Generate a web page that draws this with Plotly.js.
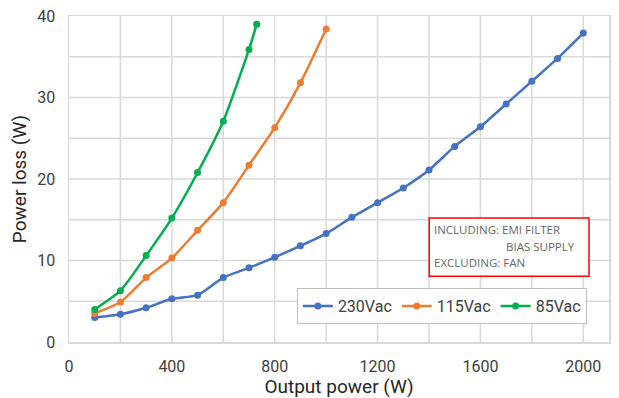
<!DOCTYPE html>
<html><head><meta charset="utf-8">
<script src="https://cdn.plot.ly/plotly-3.0.1.min.js"></script>
<style>html,body{margin:0;padding:0;background:#fff}#c{width:619px;height:398px}</style>
</head><body><div id="c"></div>
<script>
const x230 = [100,200,300,400,500,600,700,800,900,1000,1100,1200,1300,1400,1500,1600,1700,1800,1900,2000];
const y230 = [3.0,3.4,4.2,5.3,5.75,7.9,9.1,10.4,11.8,13.3,15.3,17.1,18.9,21.1,24.0,26.4,29.2,32.0,34.8,37.9];
const x115 = [100,200,300,400,500,600,700,800,900,1000];
const y115 = [3.5,4.9,7.9,10.3,13.7,17.1,21.7,26.3,31.8,38.4];
const x85 = [100,200,300,400,500,600,700,730];
const y85 = [4.0,6.3,10.6,15.2,20.8,27.1,35.9,39.0];
const names = ['230Vac','115Vac','85Vac'];
const colors = ['#4472C4','#ED7D31','#00B050'];
const noteLines = ['INCLUDING: EMI FILTER','BIAS SUPPLY','EXCLUDING: FAN'];

const xs=[x230,x115,x85], ys=[y230,y115,y85];
const traces = xs.map((x,i)=>({
  x:x, y:ys[i], name:names[i], type:'scatter', mode:'lines+markers',
  line:{color:colors[i], width:2.5, shape:'spline', smoothing:0.6},
  marker:{color:colors[i], size:7}
}));

const font = {family:'Roboto, sans-serif', color:'#404040'};
const layout = {
  width:619, height:398,
  margin:{l:69, r:10, t:16, b:56},
  paper_bgcolor:'#fff', plot_bgcolor:'#fff',
  font: font,
  showlegend:true,
  xaxis:{range:[0,2100], tickvals:[0,400,800,1200,1600,2000], ticktext:['0','400','800','1200','1600','2000'],
    tickfont:{size:16, color:'#404040'}, showgrid:false, zeroline:false,
    showline:true, linecolor:'#d9d9d9', linewidth:1.5, mirror:true, ticks:'outside', ticklen:9, tickcolor:'rgba(0,0,0,0)',
    title:{text:'Output power (W)', font:{size:19, color:'#262626'}, standoff:2}},
  yaxis:{range:[0,40], tickvals:[0,10,20,30,40], tickfont:{size:16, color:'#404040'},
    showgrid:false, zeroline:false, showline:true, linecolor:'#d9d9d9', linewidth:1.5, mirror:true,
    ticks:'outside', ticklen:9, tickcolor:'rgba(0,0,0,0)',
    title:{text:'Power loss (W)', font:{size:19, color:'#262626'}, standoff:5}},
  legend:{orientation:'h', x:0.422, y:0.165, xanchor:'left', yanchor:'top',
    bgcolor:'#fff', bordercolor:'#bfbfbf', borderwidth:1, font:{size:16, color:'#404040'},
    itemwidth:30, tracegroupgap:0},
  shapes:[],
  annotations:[]
};
for(let v=200; v<=2000; v+=200){
  layout.shapes.push({type:'line', xref:'x', yref:'paper', x0:v, x1:v, y0:0, y1:1, line:{color:'#d9d9d9', width:1.5}, layer:'below'});
}
for(let v=5; v<40; v+=5){
  layout.shapes.push({type:'line', xref:'paper', yref:'y', x0:0, x1:1, y0:v, y1:v, line:{color:'#d9d9d9', width:1.5}, layer:'below'});
}
layout.shapes.push({type:'rect', xref:'paper', yref:'paper', x0:0.667, x1:0.963, y0:0.202, y1:0.380,
  line:{color:'#ff0000', width:1.5}, fillcolor:'#fff', layer:'above'});
const noteFont = {family:'Open Sans, sans-serif', size:11.5, color:'#666666'};
layout.annotations.push({xref:'paper', yref:'paper', x:0.672, y:0.345, xanchor:'left', yanchor:'middle', text:noteLines[0], showarrow:false, font:noteFont});
layout.annotations.push({xref:'paper', yref:'paper', x:0.805, y:0.294, xanchor:'left', yanchor:'middle', text:noteLines[1], showarrow:false, font:noteFont});
layout.annotations.push({xref:'paper', yref:'paper', x:0.672, y:0.243, xanchor:'left', yanchor:'middle', text:noteLines[2], showarrow:false, font:noteFont});

Plotly.newPlot('c', traces, layout, {displayModeBar:false, staticPlot:true});
</script></body></html>
